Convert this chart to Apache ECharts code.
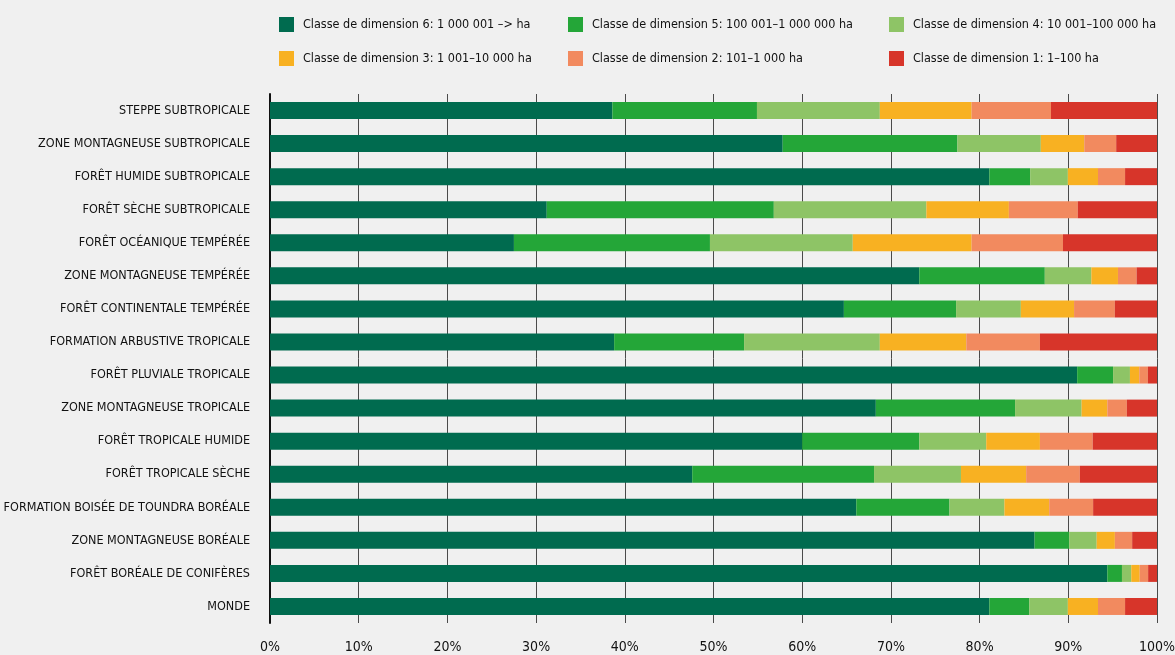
<!DOCTYPE html>
<html>
<head>
<meta charset="utf-8">
<script src="https://cdn.jsdelivr.net/npm/echarts@6/dist/echarts.min.js"></script>
<style>
  html, body { margin: 0; padding: 0; background: #f0f0f0; }
  #myChart { width: 1175px; height: 655px; }
</style>
</head>
<body>
<div id="myChart"></div>
<script>
// categories, top to bottom
var categories = [
	'STEPPE SUBTROPICALE',
	'ZONE MONTAGNEUSE SUBTROPICALE',
	'FORÊT HUMIDE SUBTROPICALE',
	'FORÊT SÈCHE SUBTROPICALE',
	'FORÊT OCÉANIQUE TEMPÉRÉE',
	'ZONE MONTAGNEUSE TEMPÉRÉE',
	'FORÊT CONTINENTALE TEMPÉRÉE',
	'FORMATION ARBUSTIVE TROPICALE',
	'FORÊT PLUVIALE TROPICALE',
	'ZONE MONTAGNEUSE TROPICALE',
	'FORÊT TROPICALE HUMIDE',
	'FORÊT TROPICALE SÈCHE',
	'FORMATION BOISÉE DE TOUNDRA BORÉALE',
	'ZONE MONTAGNEUSE BORÉALE',
	'FORÊT BORÉALE DE CONIFÈRES',
	'MONDE'
];

var seriesNames = [
	'Classe de dimension 6: 1 000 001 –> ha',
	'Classe de dimension 5: 100 001–1 000 000 ha',
	'Classe de dimension 4: 10 001–100 000 ha',
	'Classe de dimension 3: 1 001–10 000 ha',
	'Classe de dimension 2: 101–1 000 ha',
	'Classe de dimension 1: 1–100 ha'
];

// share of area (%) per size class
var dim6 = [38.6, 57.8, 81.1, 31.2, 27.5, 73.2, 64.7, 38.8, 91.0, 68.3, 60.0, 47.6, 66.1, 86.2, 94.4, 81.1];
var dim5 = [16.3, 19.7, 4.6, 25.6, 22.1, 14.15, 12.65, 14.65, 4.05, 15.7, 13.2, 20.5, 10.5, 3.9, 1.65, 4.5];
var dim4 = [13.85, 9.4, 4.25, 17.2, 16.1, 5.25, 7.3, 15.3, 1.9, 7.5, 7.55, 9.8, 6.2, 3.1, 1.05, 4.35];
var dim3 = [10.35, 4.9, 3.4, 9.3, 13.4, 3.0, 6.0, 9.75, 1.05, 2.9, 6.05, 7.35, 5.05, 2.05, 0.95, 3.4];
var dim2 = [8.95, 3.6, 3.05, 7.77, 10.3, 2.1, 4.6, 8.3, 0.97, 2.2, 5.95, 6.05, 4.95, 1.95, 0.95, 3.05];
var dim1 = [11.95, 4.6, 3.6, 8.93, 10.6, 2.3, 4.75, 13.2, 1.03, 3.4, 7.25, 8.7, 7.2, 2.8, 1.0, 3.6];

var xTicks = ['0%', '10%', '20%', '30%', '40%', '50%', '60%', '70%', '80%', '90%', '100%'];

var colors = ['#006b4f', '#24a638', '#8ec466', '#f8b122', '#f28a5f', '#d7352a'];
var values = [dim6, dim5, dim4, dim3, dim2, dim1];

var FONT = '"Liberation Sans Narrow", "DejaVu Sans Condensed", sans-serif';

var myChart = echarts.init(document.getElementById('myChart'));

// one legend per item so the columns line up like the original
var legendPos = [
	{ left: 279, top: 17 },
	{ left: 568, top: 17 },
	{ left: 889, top: 17 },
	{ left: 279, top: 51 },
	{ left: 568, top: 51 },
	{ left: 889, top: 51 }
];
var legends = seriesNames.map(function (name, i) {
	return {
		data: [name],
		left: legendPos[i].left,
		top: legendPos[i].top,
		icon: 'rect',
		itemWidth: 15,
		itemHeight: 15,
		itemGap: 0,
		padding: 0,
		textStyle: { fontFamily: FONT, fontSize: 12.5, color: '#111', padding: [0, 0, 0, 4] }
	};
});

var option = {
	backgroundColor: '#f0f0f0',
	animation: false,
	color: colors,
	legend: legends,
	grid: { left: 270, right: 18, top: 94, bottom: 32, containLabel: false, outerBoundsMode: 'none' },
	xAxis: {
		type: 'value',
		min: 0,
		max: 100,
		interval: 10,
		axisLine: { show: false },
		axisTick: { show: false },
		axisLabel: {
			margin: 17,
			fontFamily: FONT,
			fontSize: 14,
			color: '#111',
			formatter: function (v) { return xTicks[Math.round(v / 10)]; }
		},
		splitLine: { show: true, lineStyle: { color: '#4a4a4a', width: 1 } }
	},
	yAxis: {
		type: 'category',
		data: categories,
		inverse: true,
		axisLine: { show: true, lineStyle: { color: '#111', width: 2 } },
		axisTick: { show: false },
		axisLabel: { margin: 20, fontFamily: FONT, fontSize: 12.5, color: '#111' }
	},
	series: seriesNames.map(function (name, i) {
		return {
			name: name,
			type: 'bar',
			stack: 'total',
			barWidth: 17,
			data: values[i],
			itemStyle: { color: colors[i] }
		};
	})
};

myChart.setOption(option);
</script>
</body>
</html>
